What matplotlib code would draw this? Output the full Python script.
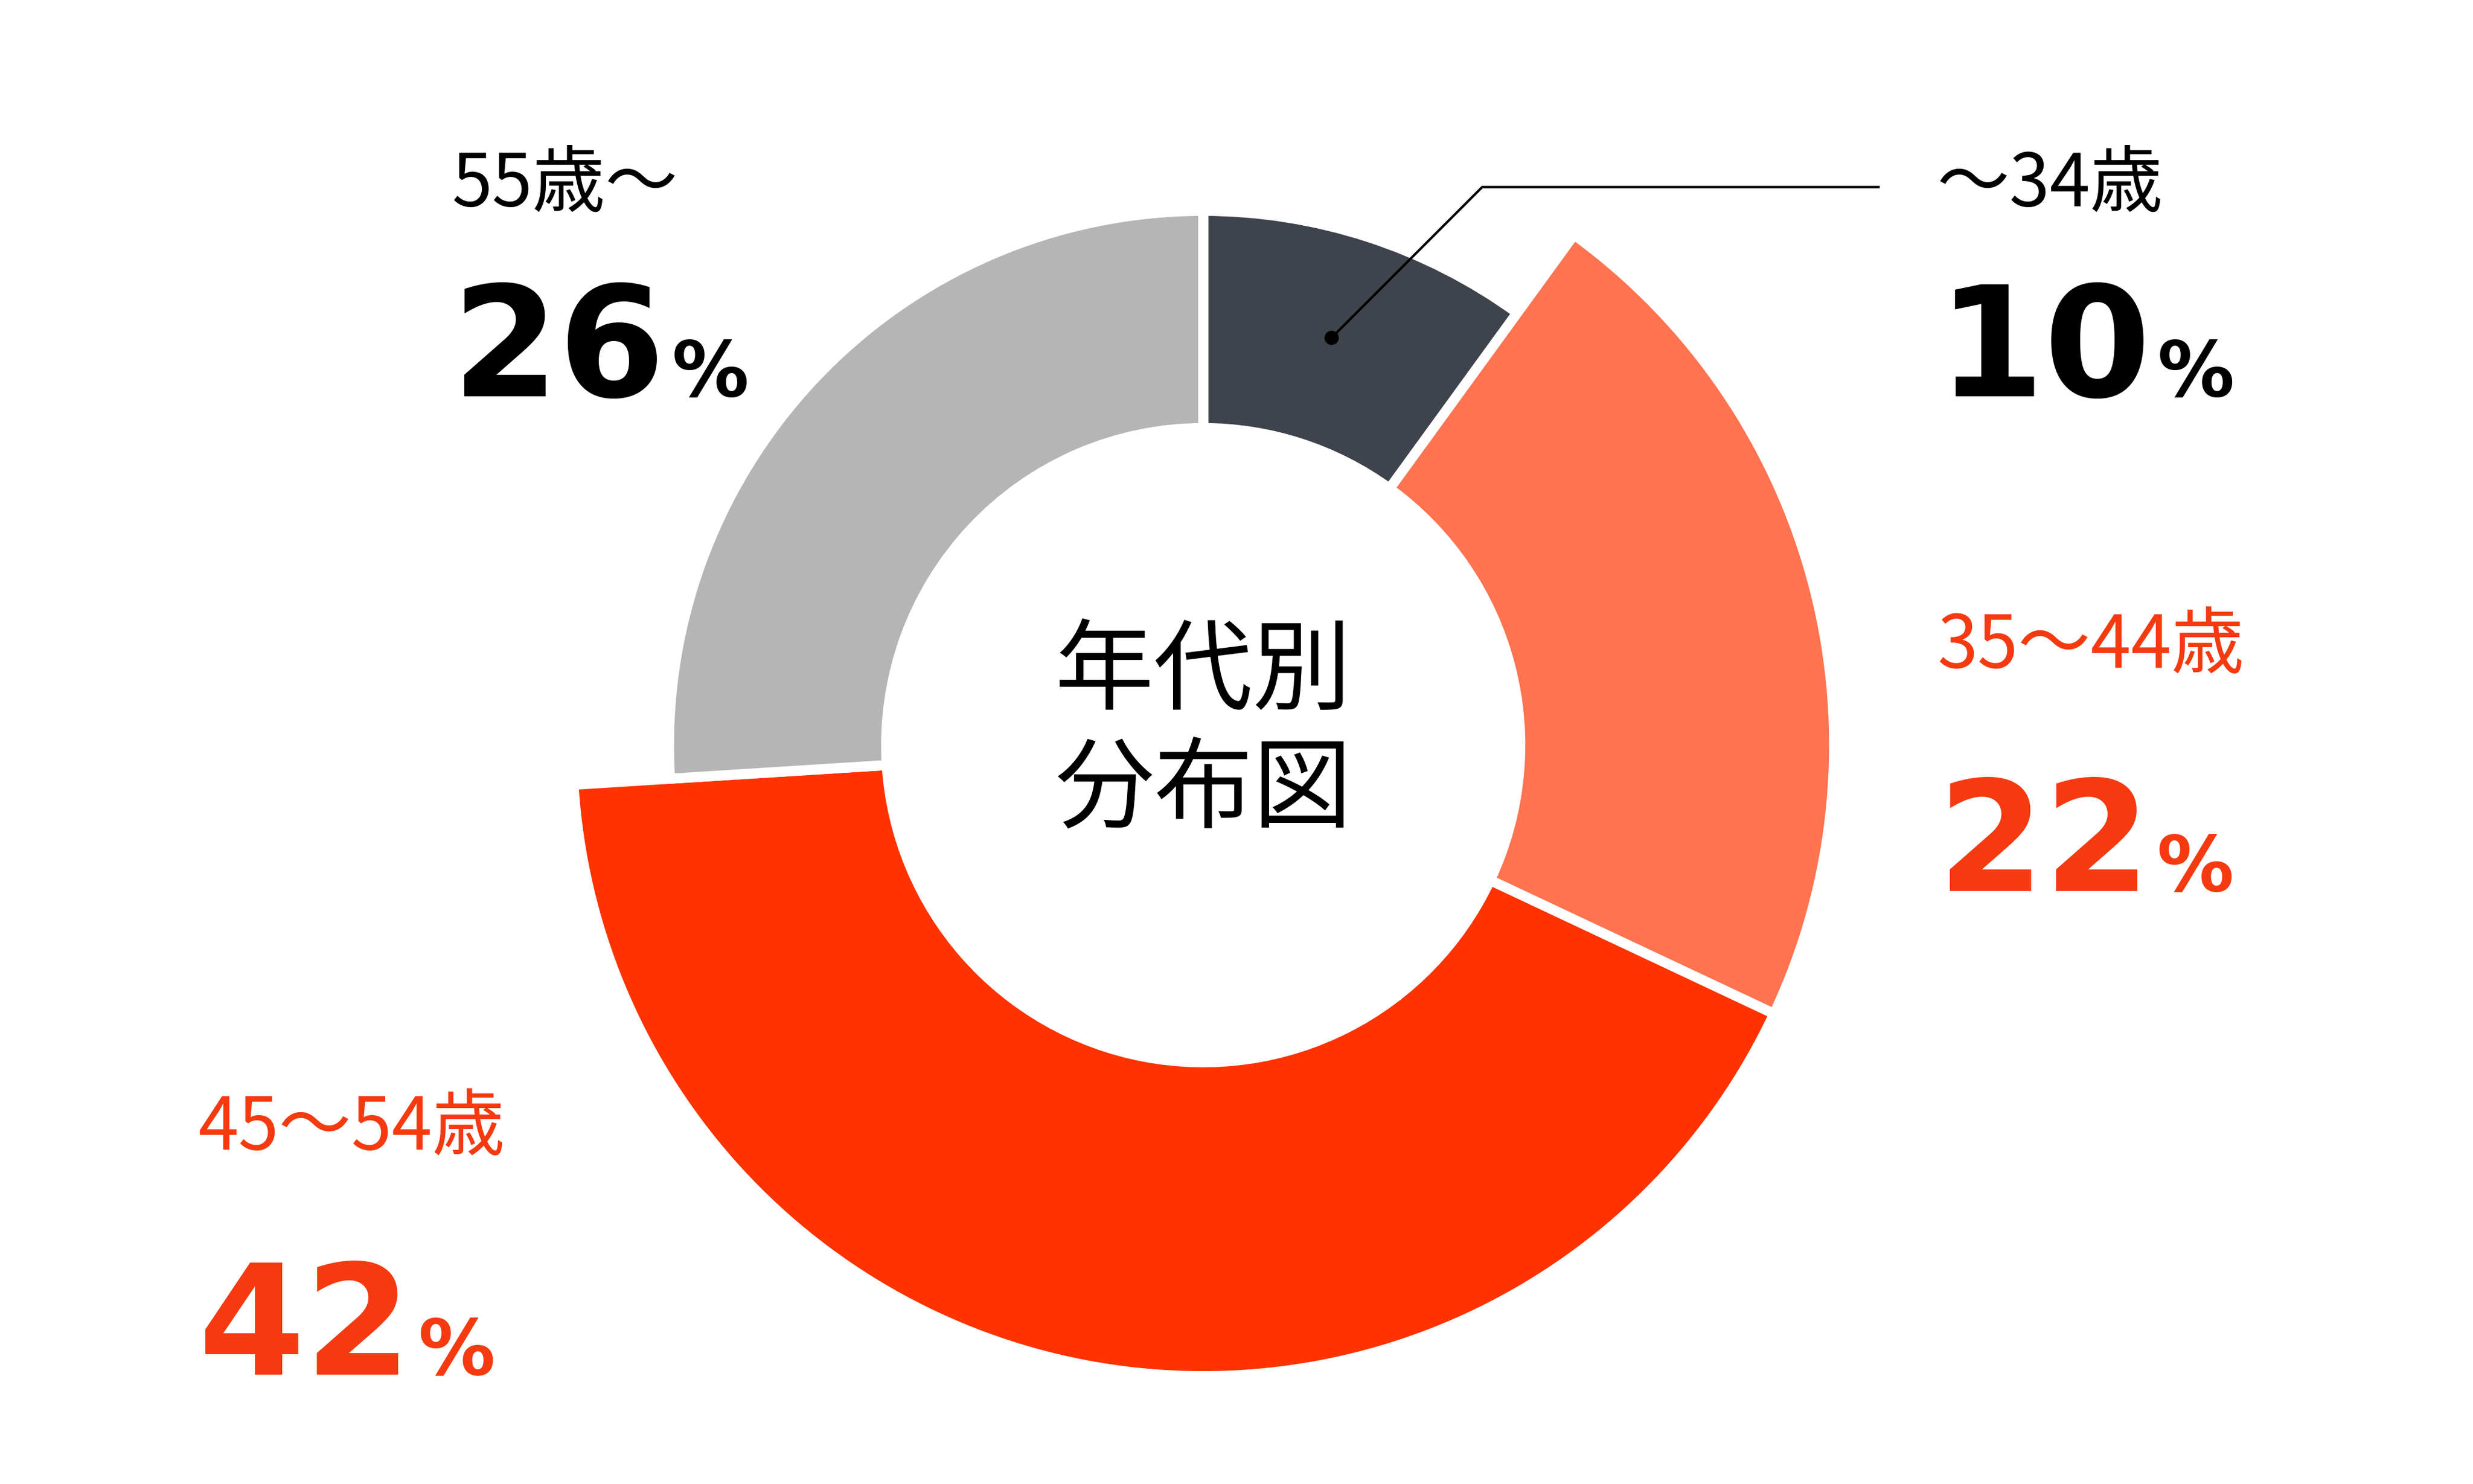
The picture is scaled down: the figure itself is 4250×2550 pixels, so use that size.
import matplotlib
matplotlib.use("Agg")
import matplotlib.pyplot as plt
from matplotlib.patches import Wedge
import numpy as np

labels = ["〜34歳", "35〜44歳", "45〜54歳", "55歳〜"]
values = [10, 22, 42, 26]
colors = ["#3f434b", "#ff7350", "#ff3300", "#b5b5b5"]
outer_r = [337, 398, 398, 337]
title_lines = ["年代別", "分布図"]

plt.rcParams['font.family'] = ['Noto Sans CJK JP', 'DejaVu Sans']
W, H = 1560, 936
fig = plt.figure(figsize=(17, 10.2), dpi=250)
ax = fig.add_axes([0, 0, 1, 1])
ax.set_xlim(0, W); ax.set_ylim(H, 0); ax.axis('off')
ax.set_aspect('equal')

cx, cy, rin = 759, 470, 200
frac = np.array(values) / sum(values)
ends = 90 - 360 * np.cumsum(frac)
starts = np.concatenate([[90], ends[:-1]])
for s, e, c, r in zip(starts, ends, colors, outer_r):
    w = Wedge((cx, cy), r, -s, -e, width=r - rin, facecolor=c,
              edgecolor='white', linewidth=5)
    ax.add_patch(w)

ax.text(cx, 462, "\n".join(title_lines), ha='center', va='center',
        fontsize=49, linespacing=1.2, color='black')

red = "#f53a10"
small = 36
big = 76
pct = 38
specs = [
    (labels[0], 1222, 117, "10", 1222, 250, 'black'),
    (labels[1], 1222, 408, "22", 1222, 562, red),
    (labels[2], 125, 712, "42", 125, 867, red),
    (labels[3], 285, 117, "26", 285, 250, 'black'),
]
fig.canvas.draw()
renderer = fig.canvas.get_renderer()
for lab, lx, ly, num, nx, ny, col in specs:
    ax.text(lx, ly, lab, fontsize=small, color=col, ha='left', va='center')
    t = ax.text(nx, ny, num, fontsize=big, fontweight='bold', color=col,
                ha='left', va='baseline', family=['DejaVu Sans'])
    bb = t.get_window_extent(renderer)
    xr = ax.transData.inverted().transform((bb.x1, bb.y0))[0]
    ax.text(xr + 4, ny, "%", fontsize=pct, fontweight='bold', color=col,
            ha='left', va='baseline', family=['DejaVu Sans'])

ax.plot([840, 935, 1185], [213, 118, 118], color='black', lw=1.2)
ax.plot([840], [213], 'o', color='black', ms=6)

fig.savefig("out.png", dpi=250)
